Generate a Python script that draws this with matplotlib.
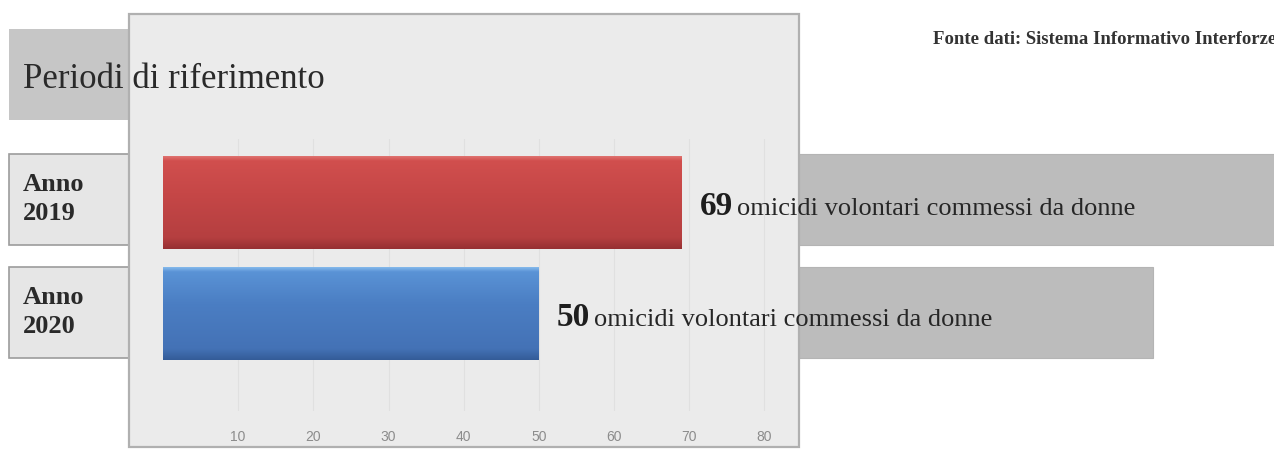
import matplotlib.pyplot as plt
import numpy as np
from matplotlib.patches import Rectangle
from matplotlib.colors import LinearSegmentedColormap

# Omicidi volontari commessi da donne, per anno
years = ["Anno\n2019", "Anno\n2020"]
counts = [69, 50]
ticks = [10, 20, 30, 40, 50, 60, 70, 80]
caption = "omicidi volontari commessi da donne"
title = "Periodi di riferimento"
source = "Fonte dati: Sistema Informativo Interforze"

serif = "Liberation Serif"
W, H = 1274, 452

fig = plt.figure(figsize=(W / 100, H / 100), dpi=100)
fig.patch.set_facecolor("white")

# background layer in pixel units for the boxes and the panel
bg = fig.add_axes([0, 0, 1, 1], zorder=0)
bg.set_xlim(0, W)
bg.set_ylim(H, 0)
bg.axis("off")

# grey strips behind the panel
bg.add_patch(Rectangle((9, 30), 140, 91, fc="#c6c6c6", ec="none", zorder=1))
bg.add_patch(Rectangle((780, 155), 520, 91, fc="#bcbcbc", ec="#b4b4b4", lw=0.8, zorder=1))
bg.add_patch(Rectangle((780, 268), 373, 91, fc="#bcbcbc", ec="#b4b4b4", lw=0.8, zorder=1))

# year label boxes
for y0 in (155, 268):
    bg.add_patch(Rectangle((9, y0), 130, 91, fc="#e6e6e6", ec="#9c9c9c", lw=1.2, zorder=1))

# chart panel
bg.add_patch(Rectangle((129, 15), 670, 433, fc="#ebebeb", ec="#b0b0b0", lw=1.6, zorder=2))

bg.text(23, 79, title, family=serif, fontsize=25, color="#2a2a2a",
        va="center", ha="left", zorder=5)
for y0, lab in zip((155, 268), years):
    bg.text(23, y0 + 44, lab, family=serif, fontsize=19, fontweight="bold",
            color="#2a2a2a", va="center", ha="left", linespacing=1.3, zorder=5)
bg.text(933, 40, source, family=serif, fontsize=13.5, fontweight="bold",
        color="#333333", va="center", ha="left", zorder=5)

# bar chart axes
left_px, right_px, top_px, bot_px = 163, 790, 140, 412
ax = fig.add_axes([left_px / W, (H - bot_px) / H,
                   (right_px - left_px) / W, (bot_px - top_px) / H], zorder=1)
ax.set_facecolor("none")
ypos = np.arange(len(counts))[::-1]

bars = ax.barh(ypos, counts, height=0.84, color=["#c44646", "#4a7dc2"],
               edgecolor="none", zorder=3)

# vertical shading on each bar
shades = [
    ["#e37b77", "#d14f4e", "#c64747", "#b53f40", "#963033"],
    ["#8ec2f0", "#5a93d6", "#4b7ec3", "#4472b6", "#345c98"],
]
grad = np.linspace(0, 1, 256).reshape(-1, 1)
for bar, cols in zip(bars, shades):
    cmap = LinearSegmentedColormap.from_list("shade", [(0, cols[0]), (0.06, cols[1]),
                                                       (0.4, cols[2]), (0.88, cols[3]),
                                                       (1, cols[4])])
    x0, y0 = bar.get_x(), bar.get_y()
    im = ax.imshow(grad, cmap=cmap, aspect="auto", zorder=4,
                   extent=(x0, x0 + bar.get_width(), y0, y0 + bar.get_height()),
                   origin="upper")
    im.set_clip_path(bar)

ax.set_xlim(0, 83.4)
ax.set_ylim(-0.878, 1.572)

ax.set_xticks(ticks)
ax.set_xticklabels([str(t) for t in ticks], family="Liberation Sans",
                   fontsize=10, color="#8c8c8c")
ax.tick_params(axis="x", length=0, pad=13)
ax.set_yticks([])
ax.grid(axis="x", color="#e0e0e0", lw=0.8, zorder=0)
for s in ax.spines.values():
    s.set_visible(False)

# value labels next to the bars
for y, v in zip(ypos, counts):
    t1 = ax.annotate(str(v), xy=(v, y), xytext=(13, -8), textcoords="offset points",
                     family=serif, fontsize=24, fontweight="bold", color="#1e1e1e",
                     va="baseline", ha="left", zorder=6)
    ax.annotate(caption, xy=(1, 0), xycoords=t1, xytext=(3, 1),
                textcoords="offset points", family=serif, fontsize=19,
                color="#262626", va="bottom", ha="left", zorder=6)

fig.savefig("out.png", dpi=100)
